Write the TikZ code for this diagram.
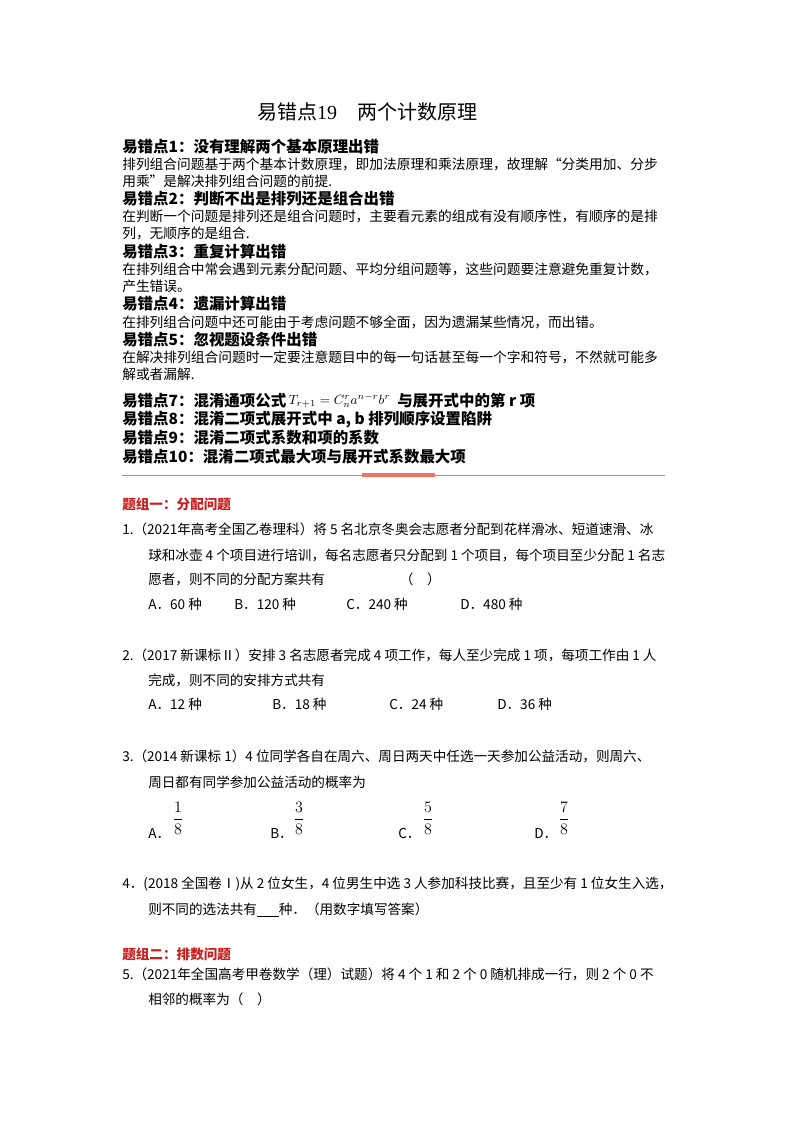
\documentclass[tikz,border=0pt]{standalone}
\usepackage{fontspec}
\setmainfont{Noto Sans CJK SC}
\newfontfamily\latinser{Liberation Serif}
\definecolor{redh}{RGB}{200,30,30}
\definecolor{sep}{RGB}{235,120,100}
\begin{document}
\begin{tikzpicture}[x=0.75pt,y=-0.75pt,
  t/.style={anchor=west,inner sep=0pt,font=\fontsize{10.3pt}{12pt}\selectfont},
  q/.style={anchor=west,inner sep=0pt,font=\fontsize{10.2pt}{12pt}\selectfont},
  h/.style={anchor=west,inner sep=0pt,font=\fontsize{11.6pt}{13pt}\selectfont\bfseries},
  g/.style={anchor=west,inner sep=0pt,text=redh,font=\fontsize{10.2pt}{12pt}\selectfont\bfseries},
  fr/.style={anchor=center,inner sep=0pt,font=\fontsize{13pt}{15pt}\selectfont}]
\useasboundingbox[fill=white] (0,0) rectangle (800,1132);
\node[anchor=center,inner sep=0pt,font=\fontsize{15pt}{17pt}\selectfont] (title) at (367,112) {易错点{\latinser 19}\quad 两个计数原理};
\node[h] (h1) at (122,147) {易错点1：没有理解两个基本原理出错};
\node[t] (t1a) at (122,164) {排列组合问题基于两个基本计数原理，即加法原理和乘法原理，故理解“分类用加、分步};
\node[t] (t1b) at (122,181) {用乘”是解决排列组合问题的前提.};
\node[h] (h2) at (122,199) {易错点2：判断不出是排列还是组合出错};
\node[t] (t2a) at (122,216) {在判断一个问题是排列还是组合问题时，主要看元素的组成有没有顺序性，有顺序的是排};
\node[t] (t2b) at (122,233) {列，无顺序的是组合.};
\node[h] (h3) at (122,252) {易错点3：重复计算出错};
\node[t] (t3a) at (122,269) {在排列组合中常会遇到元素分配问题、平均分组问题等，这些问题要注意避免重复计数，};
\node[t] (t3b) at (122,286) {产生错误。};
\node[h] (h4) at (122,304) {易错点4：遗漏计算出错};
\node[t] (t4a) at (122,322) {在排列组合问题中还可能由于考虑问题不够全面，因为遗漏某些情况，而出错。};
\node[h] (h5) at (122,340) {易错点5：忽视题设条件出错};
\node[t] (t5a) at (122,357) {在解决排列组合问题时一定要注意题目中的每一句话甚至每一个字和符号，不然就可能多};
\node[t] (t5b) at (122,374) {解或者漏解.};
\node[h] (h7) at (122,401) {易错点7：混淆通项公式\,\raisebox{2pt}{\normalfont\fontsize{10pt}{12pt}\selectfont$T_{r+1}=C_n^r a^{n-r} b^r$}\ \ 与展开式中的第 r 项};
\node[h] (h8) at (122,420) {易错点8：混淆二项式展开式中 a, b 排列顺序设置陷阱};
\node[h] (h9) at (122,438) {易错点9：混淆二项式系数和项的系数};
\node[h] (h10) at (122,457) {易错点10：混淆二项式最大项与展开式系数最大项};
\coordinate (s1) at (122,475); \coordinate (s2) at (665,475);
\coordinate (m1) at (362,475); \coordinate (m2) at (435,475);
\draw[sep,line width=0.6pt] (s1) -- (s2);
\draw[sep,line width=3pt] (m1) -- (m2);
\node[g] (g1) at (122,504) {题组一：分配问题};
\node[q] (q1a) at (122,529) {1.（2021年高考全国乙卷理科）将 5 名北京冬奥会志愿者分配到花样滑冰、短道速滑、冰};
\node[q] (q1b) at (148,555) {球和冰壶 4 个项目进行培训，每名志愿者只分配到 1 个项目，每个项目至少分配 1 名志};
\node[q] (q1c) at (148,579) {愿者，则不同的分配方案共有\hspace{5.5em}（\quad ）};
\node[q] (o1a) at (148,604) {A．60 种};
\node[q] (o1b) at (234,604) {B．120 种};
\node[q] (o1c) at (346,604) {C．240 种};
\node[q] (o1d) at (460,604) {D．480 种};
\node[q] (q2a) at (122,655) {2.（2017 新课标Ⅱ）安排 3 名志愿者完成 4 项工作，每人至少完成 1 项，每项工作由 1 人};
\node[q] (q2b) at (148,680) {完成，则不同的安排方式共有};
\node[q] (o2a) at (148,704) {A．12 种};
\node[q] (o2b) at (272,704) {B．18 种};
\node[q] (o2c) at (389,704) {C．24 种};
\node[q] (o2d) at (497,704) {D．36 种};
\node[q] (q3a) at (122,756) {3.（2014 新课标 1）4 位同学各自在周六、周日两天中任选一天参加公益活动，则周六、};
\node[q] (q3b) at (148,782) {周日都有同学参加公益活动的概率为};
\node[q] (o3a) at (148,834) {A．};
\node[q] (o3b) at (270,834) {B．};
\node[q] (o3c) at (398,834) {C．};
\node[q] (o3d) at (534,834) {D．};
\node[fr] (f1) at (178,818) {$\displaystyle\frac{1}{8}$};
\node[fr] (f2) at (299,818) {$\displaystyle\frac{3}{8}$};
\node[fr] (f3) at (428,818) {$\displaystyle\frac{5}{8}$};
\node[fr] (f4) at (564,818) {$\displaystyle\frac{7}{8}$};
\node[q] (q4a) at (122,884) {4．(2018 全国卷Ⅰ)从 2 位女生，4 位男生中选 3 人参加科技比赛，且至少有 1 位女生入选，};
\node[q] (q4b) at (148,910) {则不同的选法共有\underline{\hspace{1.6em}}种．（用数字填写答案）};
\node[g] (g2) at (122,954) {题组二：排数问题};
\node[q] (q5a) at (122,974) {5.（2021年全国高考甲卷数学（理）试题）将 4 个 1 和 2 个 0 随机排成一行，则 2 个 0 不};
\node[q] (q5b) at (148,999) {相邻的概率为（\quad ）};
\end{tikzpicture}
\end{document}
